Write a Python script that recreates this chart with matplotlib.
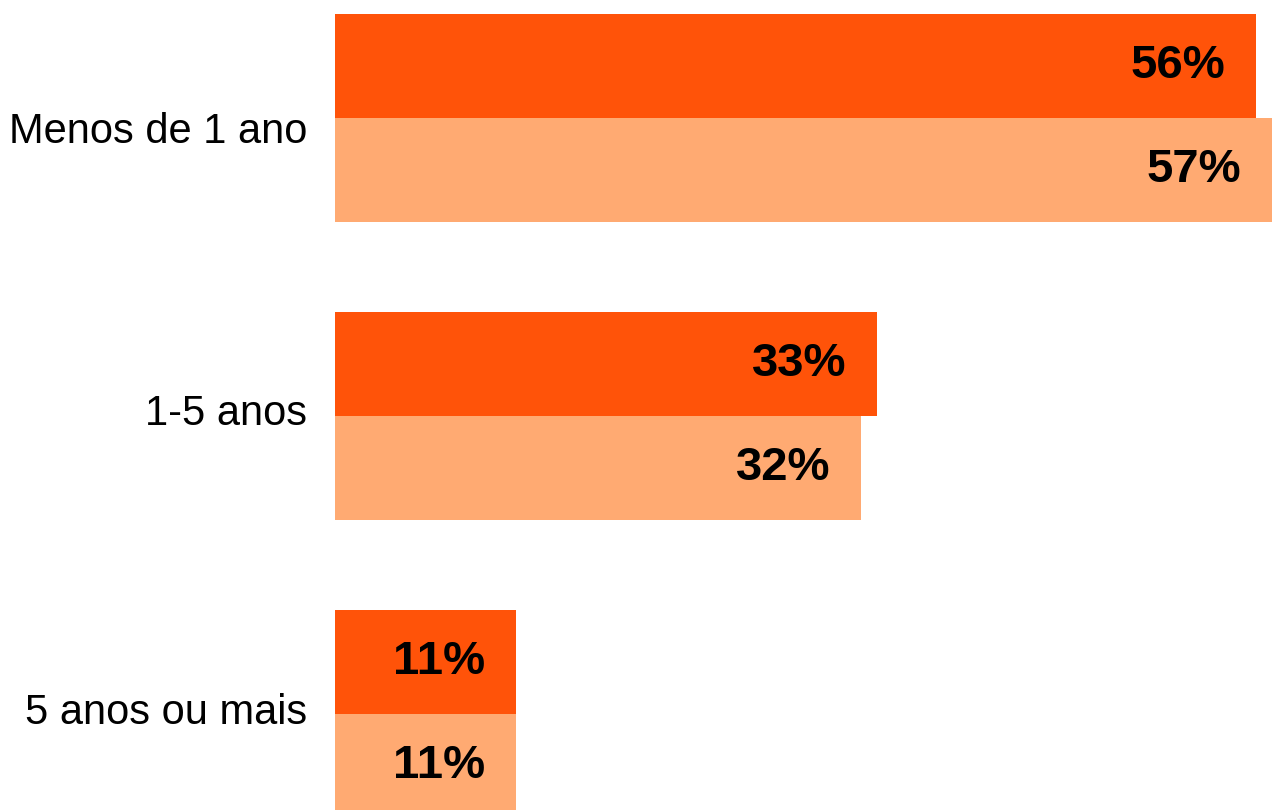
import matplotlib.pyplot as plt
import matplotlib.transforms as mtransforms
import numpy as np

categorias = ["Menos de 1 ano", "1-5 anos", "5 anos ou mais"]
serie_a = [56, 33, 11]
serie_b = [57, 32, 11]

cor_a = "#FF5309"
cor_b = "#FFAA72"

plt.rcParams['font.family'] = ['Liberation Sans', 'DejaVu Sans']

fig = plt.figure(figsize=(12.77, 8.10), dpi=100)
ax = fig.add_axes([335 / 1277, 0, (1272 - 335) / 1277, 1])

y = np.arange(len(categorias))
h = 0.349
bars_a = ax.barh(y - h / 2, serie_a, height=h, color=cor_a)
bars_b = ax.barh(y + h / 2, serie_b, height=h, color=cor_b)

for bars, vals in [(bars_a, serie_a), (bars_b, serie_b)]:
    for b, v in zip(bars, vals):
        ax.annotate(f"{v}%", (b.get_width(), b.get_y() + b.get_height() / 2),
                    xytext=(-22, 0), textcoords="offset points",
                    ha="right", va="center", fontsize=34, fontweight="bold")

ax.set_xlim(0, 57)
ax.set_ylim(2.322, -0.396)
ax.set_yticks(y)
ax.set_yticklabels(categorias, fontsize=30)
ax.tick_params(axis="y", length=0, pad=20)
ax.set_xticks([])
for s in ax.spines.values():
    s.set_visible(False)

# o primeiro rótulo fica um pouco mais baixo no original
desloc = [-0.09, 0.07, 0.06]
for lbl, d in zip(ax.get_yticklabels(), desloc):
    lbl.set_transform(lbl.get_transform() + mtransforms.ScaledTranslation(0, d, fig.dpi_scale_trans))

fig.savefig("out.png", dpi=100)
